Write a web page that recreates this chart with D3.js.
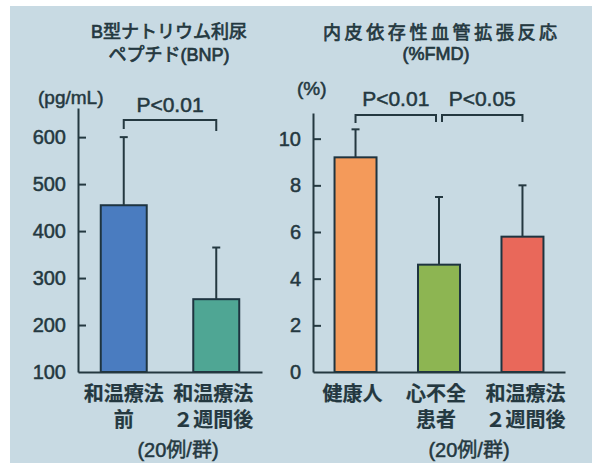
<!DOCTYPE html>
<html><head><meta charset="utf-8">
<script src="https://cdn.jsdelivr.net/npm/d3@7"></script>
<style>
html,body{margin:0;padding:0;background:#fff;}
text{font-family:"Liberation Sans","Noto Sans CJK JP",Arial,sans-serif;fill:#243840;stroke:#243840;stroke-width:0.5px;}
</style></head><body>
<svg id="c" width="592" height="463"></svg>
<script>
// ---- data ----
const bnpCategories = ["和温療法前", "和温療法2週間後"];
const bnpLabels = [["和温療法", "前"], ["和温療法", "２週間後"]];
const bnpValues = [455, 255];
const bnpErrTop = [600, 365];
const bnpTicks = [100, 200, 300, 400, 500, 600];
const bnpColors = ["#4a7cc0", "#4fa694"];

const fmdCategories = ["健康人", "心不全患者", "和温療法2週間後"];
const fmdLabels = [["健康人"], ["心不全", "患者"], ["和温療法", "２週間後"]];
const fmdValues = [9.2, 4.6, 5.8];
const fmdErrTop = [10.4, 7.5, 8.0];
const fmdTicks = [0, 2, 4, 6, 8, 10];
const fmdColors = ["#f49a5a", "#8db552", "#e9685a"];

const svg = d3.select("#c");
const ink = "#243840";
svg.append("rect").attr("x", 10).attr("y", 6).attr("width", 582).attr("height", 457).attr("fill", "#c8dae3");

function panel(o) {
  const g = svg.append("g");
  const x = d3.scaleBand().domain(o.cats).range([o.x0, o.x1]).paddingInner(o.pi).paddingOuter(o.po);
  const y = d3.scaleLinear().domain(o.dom).range([o.base, o.top]);
  // bars
  g.selectAll("rect.bar").data(o.vals).join("rect")
    .attr("x", (d, i) => x(o.cats[i])).attr("width", x.bandwidth())
    .attr("y", d => y(d)).attr("height", d => y(o.dom[0]) - y(d))
    .attr("fill", (d, i) => o.colors[i]).attr("stroke", "#1e3440").attr("stroke-width", 2);
  // error bars
  o.err.forEach((e, i) => {
    const cx = x(o.cats[i]) + x.bandwidth() / 2;
    g.append("line").attr("x1", cx).attr("x2", cx).attr("y1", y(o.vals[i])).attr("y2", y(e))
      .attr("stroke", ink).attr("stroke-width", 2);
    g.append("line").attr("x1", cx - 4).attr("x2", cx + 4).attr("y1", y(e)).attr("y2", y(e))
      .attr("stroke", ink).attr("stroke-width", 2);
  });
  // y axis
  const ya = g.append("g").attr("transform", `translate(${o.x0},0)`)
    .call(d3.axisLeft(y).tickValues(o.ticks).tickSize(-8).tickSizeOuter(0).tickPadding(12));
  ya.select(".domain").attr("stroke", ink).attr("stroke-width", 2);
  ya.selectAll(".tick line").attr("stroke", ink).attr("stroke-width", 2)
    .filter(d => d === o.dom[0]).remove();
  ya.selectAll(".tick text").style("font-size", "20px").attr("fill", ink).style("font-family", "Liberation Sans, Arial");
  // x axis
  const xa = g.append("g").attr("transform", `translate(0,${o.base})`)
    .call(d3.axisBottom(x).tickSize(0).tickSizeOuter(0).tickFormat(""));
  xa.select(".domain").attr("stroke", ink).attr("stroke-width", 2);
  // x labels
  o.labels.forEach((lines, i) => {
    const cx = x(o.cats[i]) + x.bandwidth() / 2 + o.labelShift[i];
    lines.forEach((t, j) => {
      g.append("text").attr("x", cx).attr("y", 401 + j * 26).attr("text-anchor", "middle")
        .style("font-size", "20px").style("font-weight", "bold").style("stroke-width", "0.2px").text(t);
    });
  });
  g.append("text").attr("x", o.noteX).attr("y", 457).attr("text-anchor", "middle")
    .style("font-size", "20px").text("(20例/群)");
  return {x, y};
}

const L = panel({cats: bnpCategories, labels: bnpLabels, vals: bnpValues, err: bnpErrTop, ticks: bnpTicks,
  colors: bnpColors, x0: 78, x1: 262, pi: 0.503, po: 0.246, dom: [100, 662], base: 372, top: 108,
  labelShift: [0, -3], noteX: 178});
const R = panel({cats: fmdCategories, labels: fmdLabels, vals: fmdValues, err: fmdErrTop, ticks: fmdTicks,
  colors: fmdColors, x0: 313, x1: 565, pi: 0.497, po: 0.258, dom: [0, 11.1], base: 372, top: 113,
  labelShift: [-3, -3, 3], noteX: 469});

// titles
function txt(x, y, s, size, anchor, extra) {
  const t = svg.append("text").attr("x", x).attr("y", y).attr("text-anchor", anchor || "middle")
    .style("font-size", size + "px").text(s);
  if (extra) extra(t);
  return t;
}
txt(169, 38, "B型ナトリウム利尿", 18, "middle", t => t.style("stroke-width", "0.7px"));
txt(169, 61, "ペプチド(BNP)", 18, "middle", t => t.style("stroke-width", "0.7px"));
txt(440, 39, "内皮依存性血管拡張反応", 18, "middle", t => t.attr("textLength", 234).attr("lengthAdjust", "spacing").style("stroke-width", "0.7px"));
txt(436, 60, "(%FMD)", 18, "middle", t => t.style("stroke-width", "0.7px"));
txt(38, 104, "(pg/mL)", 19, "start");
txt(297, 95, "(%)", 19, "start");

// significance brackets
function bracket(xa, xb, top, la, lb, label, ty) {
  svg.append("path").attr("d", `M${xa},${la}V${top}H${xb}V${lb}`).attr("fill", "none")
    .attr("stroke", ink).attr("stroke-width", 2);
  txt((xa + xb) / 2, ty, label, 21);
}
const lc = i => L.x(bnpCategories[i]) + L.x.bandwidth() / 2;
const rc = i => R.x(fmdCategories[i]) + R.x.bandwidth() / 2;
bracket(lc(0), lc(1), 120, 129, 131, "P<0.01", 112);
bracket(rc(0), rc(1) - 3, 115, 123, 122, "P<0.01", 106);
bracket(rc(1) + 3, rc(2), 115, 122, 122, "P<0.05", 106);
</script></body></html>
